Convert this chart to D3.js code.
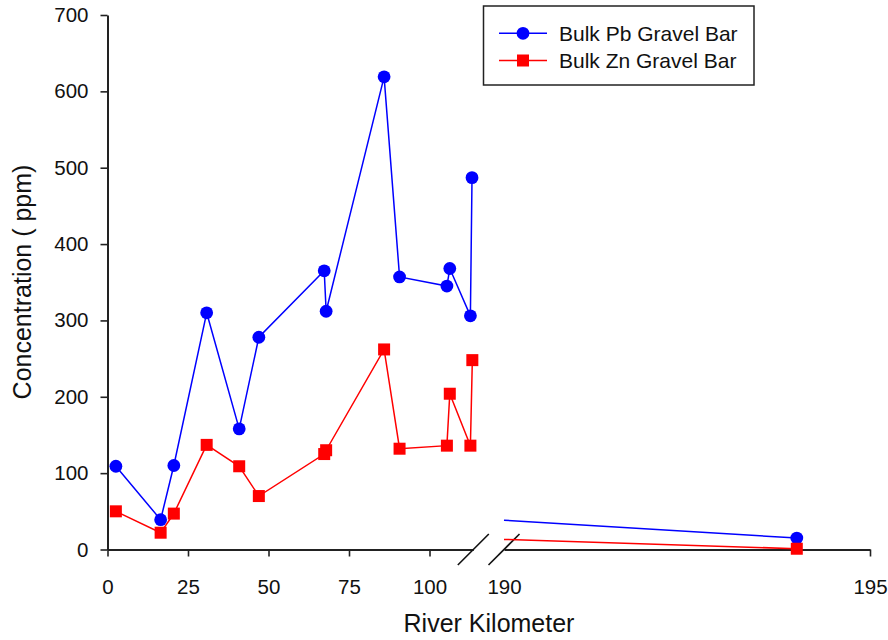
<!DOCTYPE html>
<html>
<head>
<meta charset="utf-8">
<script src="https://cdn.jsdelivr.net/npm/d3@7"></script>
<style>
  html, body { margin: 0; padding: 0; background: #fff; }
  svg { display: block; font-family: "Liberation Sans", Arial, sans-serif; }
</style>
</head>
<body>
<svg id="chart" width="888" height="640"></svg>
<script>
// ---- data ----
const seriesNames = ["Bulk Pb Gravel Bar", "Bulk Zn Gravel Bar"];
const pbKm  = [2.6, 16.5, 20.6, 30.8, 40.9, 47.0, 67.3, 67.9, 85.9, 90.7, 105.4, 106.3, 112.7, 113.2, 194.0];
const pbVal = [109, 39, 110, 310, 158, 278, 365, 312, 619, 357, 345, 368, 306, 487, 15];
const znKm  = [2.6, 16.5, 20.6, 30.8, 40.9, 47.0, 67.3, 67.9, 85.9, 90.7, 105.4, 106.3, 112.7, 113.3, 194.0];
const znVal = [50, 22, 47, 137, 109, 70, 125, 130, 262, 132, 136, 204, 136, 248, 1];
const yTicks = [0, 100, 200, 300, 400, 500, 600, 700];
const xTicksLow = [0, 25, 50, 75, 100];
const xTicksHigh = [190, 195];
const lowDomain = [0, 113.6];
const highDomain = [190, 195];

const svg = d3.select("#chart");
const axisColor = "#222";

// ---- scales (broken x axis) ----
const y = d3.scaleLinear().domain([0, 700]).range([549.5, 15]);
const x1 = d3.scaleLinear().domain(lowDomain).range([107.5, 473.3]);
const x2 = d3.scaleLinear().domain(highDomain).range([504, 870]);
const xPos = k => (k <= lowDomain[1] ? x1(k) : x2(k));

// ---- axes ----
const fs = 20.5;
const fmt = d3.format("d");
const yAxis = svg.append("g").attr("transform", `translate(${x1.range()[0]},0)`)
  .call(d3.axisLeft(y).tickValues(yTicks).tickFormat(fmt).tickSize(7).tickSizeOuter(0).tickPadding(12));
const xAxis1 = svg.append("g").attr("transform", `translate(0,${y(0)})`)
  .call(d3.axisBottom(x1).tickValues(xTicksLow).tickFormat(fmt).tickSize(7).tickSizeOuter(0).tickPadding(23));
const xAxis2 = svg.append("g").attr("transform", `translate(0,${y(0)})`)
  .call(d3.axisBottom(x2).tickValues(xTicksHigh).tickFormat(fmt).tickSize(7).tickSizeOuter(0).tickPadding(23));
[yAxis, xAxis1, xAxis2].forEach(g => {
  g.selectAll("path.domain").attr("stroke", axisColor).attr("stroke-width", 2);
  g.selectAll(".tick line").attr("stroke", axisColor).attr("stroke-width", 1.6);
  g.selectAll(".tick text").attr("fill", "#111").attr("font-size", fs)
    .attr("font-family", '"Liberation Sans", Arial, sans-serif');
});
// the 190 tick is drawn as the axis start, hide its tick mark
xAxis2.selectAll(".tick").filter(d => d === 190).select("line").remove();

// ---- break marks ----
const brk = [x1.range()[1], x2.range()[0]];
svg.append("g").selectAll("line").data(brk).join("line")
  .attr("x1", d => d - 15.5).attr("y1", y(0) + 15.5)
  .attr("x2", d => d + 15.5).attr("y2", y(0) - 15.5)
  .attr("stroke", "#111").attr("stroke-width", 1.6);

// ---- series ----
const series = [
  { name: seriesNames[0], km: pbKm, val: pbVal, color: "#0000ff", shape: "circle" },
  { name: seriesNames[1], km: znKm, val: znVal, color: "#ff0000", shape: "square" }
];

const line = d3.line().x(d => xPos(d[0])).y(d => y(d[1]));

series.forEach(s => {
  const pts = s.km.map((k, i) => [k, s.val[i]]);
  const low = pts.filter(p => p[0] <= lowDomain[1]);
  const high = pts.filter(p => p[0] >= highDomain[0]);
  const g = svg.append("g");
  g.append("path").attr("d", line(low)).attr("fill", "none")
    .attr("stroke", s.color).attr("stroke-width", 1.5);
  // segment crossing the break: clip it at the start of the upper axis part
  if (low.length && high.length) {
    const p = low[low.length - 1], q = high[0];
    const t = (highDomain[0] - p[0]) / (q[0] - p[0]);
    const v = p[1] + (q[1] - p[1]) * t;
    g.append("path").attr("d", line([[highDomain[0], v], q])).attr("fill", "none")
      .attr("stroke", s.color).attr("stroke-width", 1.5);
  }
  if (high.length > 1) {
    g.append("path").attr("d", line(high)).attr("fill", "none")
      .attr("stroke", s.color).attr("stroke-width", 1.5);
  }
  if (s.shape === "circle") {
    g.selectAll("circle").data(pts).join("circle")
      .attr("cx", d => xPos(d[0])).attr("cy", d => y(d[1])).attr("r", 6.4)
      .attr("fill", s.color);
  } else {
    g.selectAll("rect").data(pts).join("rect")
      .attr("x", d => xPos(d[0]) - 6).attr("y", d => y(d[1]) - 6)
      .attr("width", 12).attr("height", 12).attr("fill", s.color);
  }
});

// ---- axis titles ----
svg.append("text").attr("x", 489).attr("y", 632).attr("text-anchor", "middle")
  .attr("font-size", 25).attr("fill", "#111").text("River Kilometer");
svg.append("text").attr("transform", "translate(31,282) rotate(-90)")
  .attr("text-anchor", "middle").attr("font-size", 25).attr("fill", "#111")
  .text("Concentration ( ppm)");

// ---- legend ----
const lg = svg.append("g");
lg.append("rect").attr("x", 483.5).attr("y", 6).attr("width", 270.5).attr("height", 79)
  .attr("fill", "#fff").attr("stroke", axisColor).attr("stroke-width", 1.5);
const legRows = [33.3, 60.5];
series.forEach((s, i) => {
  const yy = legRows[i];
  lg.append("line").attr("x1", 499).attr("x2", 547).attr("y1", yy).attr("y2", yy)
    .attr("stroke", s.color).attr("stroke-width", 1.5);
  if (s.shape === "circle") {
    lg.append("circle").attr("cx", 523).attr("cy", yy).attr("r", 6.4).attr("fill", s.color);
  } else {
    lg.append("rect").attr("x", 517).attr("y", yy - 6).attr("width", 12).attr("height", 12)
      .attr("fill", s.color);
  }
  lg.append("text").attr("x", 559).attr("y", yy).attr("dy", "0.35em")
    .attr("font-size", 21).attr("fill", "#111").text(s.name);
});
</script>
</body>
</html>
